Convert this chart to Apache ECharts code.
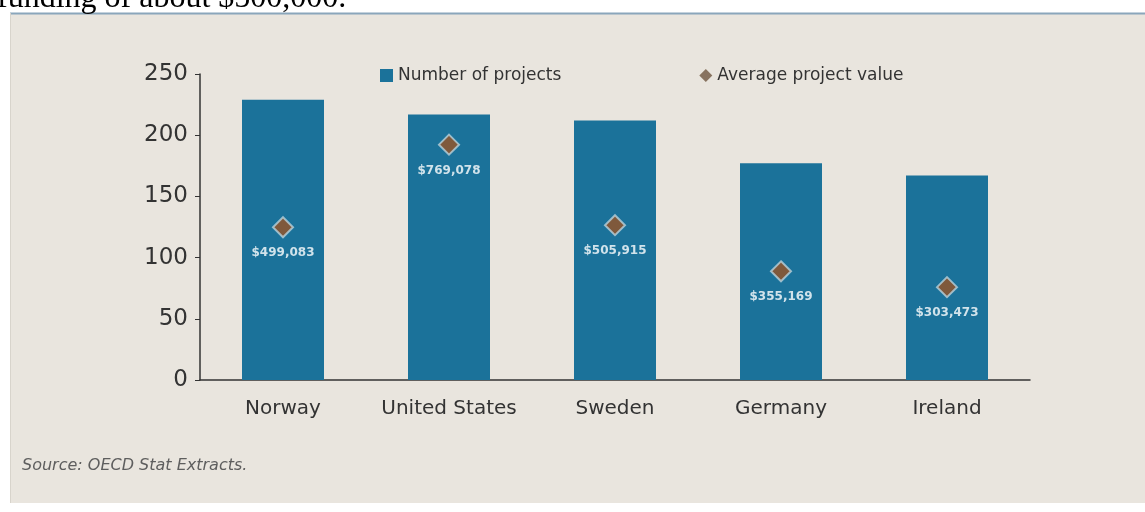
<!DOCTYPE html>
<html>
<head>
<meta charset="utf-8">
<style>
  html, body { margin: 0; padding: 0; background: #ffffff; }
  #chart { width: 1145px; height: 512px; }
</style>
<script src="https://cdn.jsdelivr.net/npm/echarts@6/dist/echarts.min.js"></script>
</head>
<body>
<div id="chart"></div>
<script>
// Countries with the most projects, and the average value of a project
const countries = ['Norway', 'United States', 'Sweden', 'Germany', 'Ireland'];
const projectCounts = [229, 217, 212, 177, 167];
const averageValues = [499083, 769078, 505915, 355169, 303473];
const countTicks = { min: 0, max: 250, interval: 50 };
const valueScaleMax = 1000000;

const fmtDollar = v => '$' + v.toLocaleString('en-US');
const font = 'DejaVu Sans';
const diamondColor = '#985224';

const chart = echarts.init(document.getElementById('chart'), null, { renderer: 'canvas' });

chart.setOption({
  backgroundColor: '#ffffff',
  animation: false,
  textStyle: { fontFamily: font },
  graphic: [
    // panel behind the chart
    {
      type: 'rect', z: -10,
      shape: { x: 10, y: 13, width: 1135, height: 490 },
      style: { fill: '#e9e5de' }
    },
    {
      type: 'line', z: -9,
      shape: { x1: 10, y1: 13.5, x2: 1145, y2: 13.5 },
      style: { stroke: '#8aa6bb', lineWidth: 2 }
    },
    {
      type: 'line', z: -9,
      shape: { x1: 10.5, y1: 13, x2: 10.5, y2: 503 },
      style: { stroke: '#d8d4cc', lineWidth: 1 }
    },
    // end of the sentence running into the panel from above
    {
      type: 'text', z: 5,
      left: -3, top: -17,
      style: {
        text: 'funding of about $500,000.',
        fill: '#000000',
        font: '32px "Liberation Serif"'
      }
    },
    {
      type: 'text', z: 5,
      left: 22, top: 458,
      style: {
        text: 'Source: OECD Stat Extracts.',
        fill: '#5e5e5e',
        font: 'italic 16px "DejaVu Sans"'
      }
    }
  ],
  legend: {
    left: 375, top: 62,
    itemGap: 138,
    itemWidth: 13, itemHeight: 13,
    textStyle: { fontSize: 17, color: '#333333', fontFamily: font },
    data: [
      { name: 'Number of projects', icon: 'rect' },
      {
        name: 'Average project value', icon: 'diamond',
        itemStyle: { color: '#6f5640', borderWidth: 0 }
      }
    ]
  },
  grid: { left: 200, right: 115, top: 74, bottom: 132, containLabel: false },
  xAxis: {
    type: 'category',
    data: countries,
    axisLine: { lineStyle: { color: '#333333', width: 1.5 } },
    axisTick: { show: false },
    axisLabel: {
      interval: 0, hideOverlap: false,
      fontSize: 20, color: '#333333', margin: 19, fontFamily: font
    }
  },
  yAxis: [
    {
      type: 'value',
      min: countTicks.min, max: countTicks.max, interval: countTicks.interval,
      axisLine: { show: true, lineStyle: { color: '#333333', width: 1.5 } },
      axisTick: { show: true, length: 5, lineStyle: { color: '#333333' } },
      axisLabel: { fontSize: 23, color: '#333333', margin: 12, fontFamily: font },
      splitLine: { show: false }
    },
    {
      type: 'value',
      min: 0, max: valueScaleMax,
      show: false,
      splitLine: { show: false }
    }
  ],
  series: [
    {
      name: 'Number of projects',
      type: 'bar',
      data: projectCounts,
      barWidth: 82,
      itemStyle: { color: '#1b729a' }
    },
    {
      name: 'Average project value',
      type: 'scatter',
      yAxisIndex: 1,
      data: averageValues,
      symbol: 'diamond',
      symbolSize: [20, 20],
      itemStyle: { color: diamondColor, borderColor: '#b9d2dc', borderWidth: 2 },
      label: {
        show: true,
        position: 'bottom',
        distance: 9,
        color: '#ffffff',
        fontSize: 12,
        fontWeight: 'bold',
        fontFamily: font,
        formatter: p => fmtDollar(p.value)
      },
      z: 5
    }
  ]
});
</script>
</body>
</html>
